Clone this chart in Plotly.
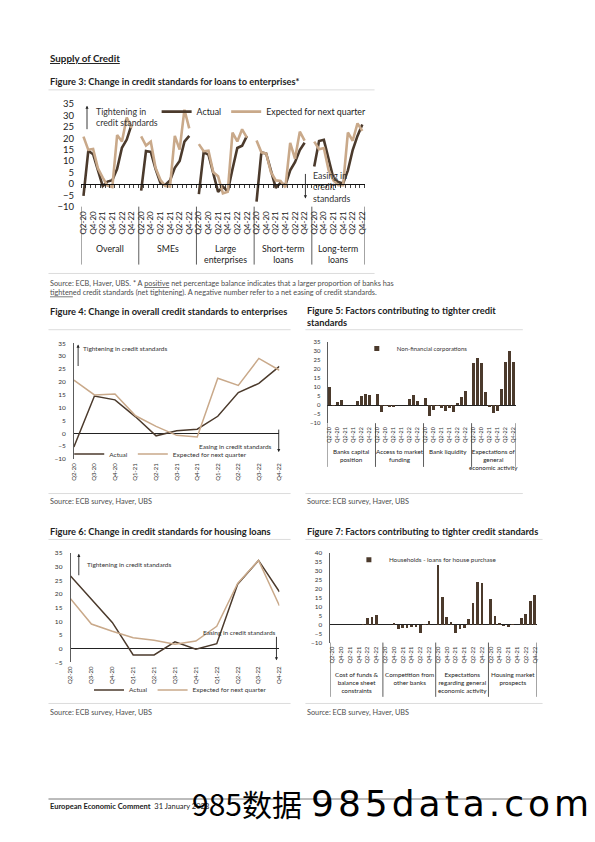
import plotly.graph_objects as go

W, H = 595, 842
FONT = "Lato"
DARK = "#4b3a2c"
TAN = "#c9a98a"
INK = "#222222"
SRC = "#4d4d4d"
RULE = "#dcdcdc"


def fx(x):
    return x / W


def fy(y):
    return 1 - y / H


# ---------------- data ----------------
quarters = ["Q2-20", "Q3-20", "Q4-20", "Q1-21", "Q2-21", "Q3-21",
            "Q4-21", "Q1-22", "Q2-22", "Q3-22", "Q4-22"]
label_quarters = ["Q2-20", "Q4-20", "Q2-21", "Q4-21", "Q2-22", "Q4-22"]

# Figure 3: change in credit standards for loans to enterprises
fig3_groups = ["Overall", "SMEs", "Large<br>enterprises", "Short-term<br>loans", "Long-term<br>loans"]
overall_actual = [-5.3, 14.5, 13.0, 6.4, -1.0, 1.0, 1.6, 6.6, 15.8, 19.4, 26.0]
overall_expected = [20.7, 14.9, 15.3, 6.8, 2.7, -0.8, -1.4, 21.4, 18.6, 29.1, 24.5]
smes_actual = [-3.0, 14.4, 14.0, 6.5, 0.5, -0.5, 1.5, 7.0, 10.0, 18.5, 21.0]
smes_expected = [20.8, 16.8, 18.5, 7.0, 1.8, -1.0, -1.2, 21.0, 15.0, 32.5, 24.3]
large_actual = [-4.5, 13.8, 12.8, 5.0, -3.5, -1.2, -3.3, 6.5, 15.7, 16.7, 21.0]
large_expected = [17.4, 14.3, 14.5, 5.1, 3.3, -4.2, -3.5, 22.5, 18.6, 23.9, 20.3]
short_actual = [-7.8, 13.8, 13.3, 5.9, -1.8, 0.4, -0.6, 5.9, 9.5, 14.8, 18.0]
short_expected = [19.0, 13.8, 13.3, 5.1, 1.5, 1.3, -1.6, 18.0, 11.0, 22.9, 18.9]
long_actual = [7.6, 18.8, 19.3, 11.0, 2.3, 0.8, 0.1, 5.9, 14.8, 21.0, 26.0]
long_expected = [18.5, 15.2, 15.7, 5.9, 1.5, -0.6, -0.6, 22.5, 18.9, 26.5, 23.2]
fig3_actual = [overall_actual, smes_actual, large_actual, short_actual, long_actual]
fig3_expected = [overall_expected, smes_expected, large_expected, short_expected, long_expected]

# Figure 4: overall credit standards to enterprises (same series as "Overall")
fig4_actual = overall_actual
fig4_expected = overall_expected

# Figure 5: factors contributing to tighter credit standards (NFCs)
fig5_groups = ["Banks capital<br>position", "Access to market<br>funding", "Bank liquidity",
               "Expectations of<br>general<br>economic activity"]
nfc_capital = [10.2, -0.5, 1.8, 2.7, 0.0, 0.0, 0.2, 2.6, 4.9, 6.4, 5.4]
nfc_market = [6.4, -3.8, -0.7, -1.2, -1.2, 0.0, 0.0, 0.1, 3.4, 5.9, 2.2]
nfc_liquidity = [4.0, -6.0, -2.6, -0.7, -1.5, -3.0, -1.8, -4.0, 1.2, 4.7, 8.0]
nfc_expectations = [23.5, 26.5, 23.5, 7.6, -0.8, -4.3, -3.3, 8.8, 24.0, 30.0, 24.0]
fig5_values = [nfc_capital, nfc_market, nfc_liquidity, nfc_expectations]

# Figure 6: change in credit standards for housing loans
housing_actual = [26.6, 18.0, 9.6, -2.3, -2.3, 2.5, -0.2, 1.8, 23.6, 32.3, 20.8]
housing_expected = [18.3, 9.0, 6.4, 4.0, 3.1, 1.6, 2.8, 8.2, 23.9, 32.3, 15.7]

# Figure 7: factors contributing to tighter credit standards (households)
fig7_groups = ["Cost of funds &<br>balance sheet<br>constraints", "Competition from<br>other banks",
               "Expectations<br>regarding general<br>economic activity", "Housing market<br>prospects"]
hh_cost = [0.0, 0.0, 0.0, 0.0, 0.0, 0.0, 0.0, 0.2, 4.0, 4.4, 5.6]
hh_competition = [0.0, 0.0, 1.0, -2.6, -1.9, -2.1, -1.4, -1.4, -4.9, 0.6, 2.2]
hh_expectations = [33.5, 15.5, 4.4, 1.5, -4.4, -2.6, -1.9, 3.0, 12.3, 23.6, 23.0]
hh_housing = [14.5, 5.0, 1.0, -0.8, -1.3, 0.5, 0.0, 4.0, 6.2, 13.3, 16.8]
fig7_values = [hh_cost, hh_competition, hh_expectations, hh_housing]

SLOT = 12  # 11 quarters plus one empty spacer category per group


# ---------------- helpers ----------------
def group_pos(n):
    return [[g * SLOT + i for i in range(len(quarters))] for g in range(n)]


def with_gaps(pos, vals):
    xs, ys = [], []
    for p, v in zip(pos, vals):
        xs += p + [None]
        ys += v + [None]
    return xs, ys


def flat(pos, vals):
    xs, ys = [], []
    for p, v in zip(pos, vals):
        xs += p
        ys += v
    return xs, ys


def group_ticks(n):
    vals, text = [], []
    for g in range(n):
        for q in label_quarters:
            vals.append(g * SLOT + quarters.index(q))
            text.append(q)
    return vals, text


def dividers(n):
    return [g * SLOT - 0.5 for g in range(n)] + [n * SLOT - 1.5]


fig = go.Figure()

# ---------- Figure 3 ----------
p3 = group_pos(len(fig3_groups))
xa, ya = with_gaps(p3, fig3_actual)
xe, ye = with_gaps(p3, fig3_expected)
fig.add_trace(go.Scatter(x=xa, y=ya, mode="lines", name="Actual", line=dict(color=DARK, width=2.6),
                         xaxis="x", yaxis="y", legend="legend", connectgaps=False, hoverinfo="skip"))
fig.add_trace(go.Scatter(x=xe, y=ye, mode="lines", name="Expected for next quarter",
                         line=dict(color=TAN, width=2.6), xaxis="x", yaxis="y", legend="legend",
                         connectgaps=False, hoverinfo="skip"))
fig.add_trace(go.Scatter(x=[None], y=[None], xaxis="x6", yaxis="y", showlegend=False, hoverinfo="skip"))

# ---------- Figure 4 ----------
q_idx = list(range(len(quarters)))
fig.add_trace(go.Scatter(x=q_idx, y=fig4_actual, mode="lines", name="Actual",
                         line=dict(color=DARK, width=1.5), xaxis="x2", yaxis="y2", legend="legend2",
                         hoverinfo="skip"))
fig.add_trace(go.Scatter(x=q_idx, y=fig4_expected, mode="lines", name="Expected for next quarter",
                         line=dict(color=TAN, width=1.5), xaxis="x2", yaxis="y2", legend="legend2",
                         hoverinfo="skip"))

# ---------- Figure 5 ----------
p5 = group_pos(len(fig5_groups))
xb, yb = flat(p5, fig5_values)
fig.add_trace(go.Bar(x=xb, y=yb, width=0.62, marker=dict(color=DARK, line=dict(width=0)),
                     xaxis="x3", yaxis="y3", showlegend=False, hoverinfo="skip"))
fig.add_trace(go.Scatter(x=[None], y=[None], mode="markers", name="Non-financial corporations",
                         marker=dict(symbol="square", size=5, color=DARK), xaxis="x3", yaxis="y3",
                         legend="legend3", hoverinfo="skip"))

# ---------- Figure 6 ----------
fig.add_trace(go.Scatter(x=q_idx, y=housing_actual, mode="lines", name="Actual",
                         line=dict(color=DARK, width=1.5), xaxis="x4", yaxis="y4", legend="legend4",
                         hoverinfo="skip"))
fig.add_trace(go.Scatter(x=q_idx, y=housing_expected, mode="lines", name="Expected for next quarter",
                         line=dict(color=TAN, width=1.5), xaxis="x4", yaxis="y4", legend="legend4",
                         hoverinfo="skip"))

# ---------- Figure 7 ----------
p7 = group_pos(len(fig7_groups))
xh, yh = flat(p7, fig7_values)
fig.add_trace(go.Bar(x=xh, y=yh, width=0.62, marker=dict(color=DARK, line=dict(width=0)),
                     xaxis="x5", yaxis="y5", showlegend=False, hoverinfo="skip"))
fig.add_trace(go.Scatter(x=[None], y=[None], mode="markers", name="Households - loans for house purchase",
                         marker=dict(symbol="square", size=5, color=DARK), xaxis="x5", yaxis="y5",
                         legend="legend5", hoverinfo="skip"))

# ---------------- axes ----------------
base = dict(showgrid=False, zeroline=False, showline=False, ticks="", fixedrange=True)

# Fig 3
t3v, t3t = group_ticks(len(fig3_groups))
r3 = [-0.5, len(fig3_groups) * SLOT - 1.5]
y3dom = [fy(203.3), fy(99.3)]
y3rng = [-10, 35]
zero3 = y3dom[0] + (0 - y3rng[0]) / (y3rng[1] - y3rng[0]) * (y3dom[1] - y3dom[0])
fig.update_layout(
    xaxis=dict(base, domain=[fx(78), fx(365)], range=r3, anchor="y", tickmode="array",
               tickvals=t3v, ticktext=t3t, tickangle=-90, tickfont=dict(size=8, color=INK),
               ticklabelstandoff=2),
    yaxis=dict(base, domain=y3dom, range=y3rng, anchor="x", dtick=5, tickfont=dict(size=9.5, color=INK),
               ticklabelstandoff=6),
    xaxis6=dict(base, overlaying="x", anchor="free", position=zero3, range=r3, showline=True,
                linecolor="#111111", linewidth=1.2, ticks="outside", ticklen=2.5, tickwidth=0.8,
                tickcolor="#111111", tickmode="array",
                tickvals=[k + 0.5 for k in range(-1, int(r3[1]) + 1)], showticklabels=False),
)

# Fig 4
fig.update_layout(
    xaxis2=dict(base, domain=[fx(70.7), fx(278.7)], range=[0, len(quarters) - 1], anchor="y2",
                tickmode="array", tickvals=q_idx, ticktext=quarters, tickangle=-90,
                tickfont=dict(size=6, color="#333333"), ticklabelstandoff=2),
    yaxis2=dict(base, domain=[fy(459), fy(341.7)], range=[-10, 35], anchor="x2", dtick=5,
                showline=True, linecolor="#333333", linewidth=0.8, zeroline=True,
                zerolinecolor="#222222", zerolinewidth=1, tickfont=dict(size=6.5, color="#333333"),
                ticklabelstandoff=6),
)

# Fig 5
t5v, t5t = group_ticks(len(fig5_groups))
r5 = [-0.5, len(fig5_groups) * SLOT - 1.5]
fig.update_layout(
    xaxis3=dict(base, domain=[fx(327.3), fx(517.7)], range=r5, anchor="y3", tickmode="array",
                tickvals=t5v, ticktext=t5t, tickangle=-90, tickfont=dict(size=5.3, color="#333333"),
                ticklabelstandoff=2),
    yaxis3=dict(base, domain=[fy(422.7), fy(340.7)], range=[-10, 35], anchor="x3", dtick=5,
                showline=True, linecolor="#333333", linewidth=0.8, zeroline=True,
                zerolinecolor="#222222", zerolinewidth=1, tickfont=dict(size=6, color="#333333"),
                ticklabelstandoff=5),
)

# Fig 6
fig.update_layout(
    xaxis4=dict(base, domain=[fx(67.3), fx(278.7)], range=[0, len(quarters) - 1], anchor="y4",
                tickmode="array", tickvals=q_idx, ticktext=quarters, tickangle=-90,
                tickfont=dict(size=6, color="#333333"), ticklabelstandoff=2),
    yaxis4=dict(base, domain=[fy(665), fy(554.3)], range=[-5, 35], anchor="x4", dtick=5,
                showline=True, linecolor="#333333", linewidth=0.8, zeroline=True,
                zerolinecolor="#222222", zerolinewidth=1, tickfont=dict(size=6.5, color="#333333"),
                ticklabelstandoff=6),
)

# Fig 7
t7v, t7t = group_ticks(len(fig7_groups))
r7 = [-0.5, len(fig7_groups) * SLOT - 1.5]
fig.update_layout(
    xaxis5=dict(base, domain=[fx(330), fx(539.2)], range=r7, anchor="y5", tickmode="array",
                tickvals=t7v, ticktext=t7t, tickangle=-90, tickfont=dict(size=5.8, color="#333333"),
                ticklabelstandoff=2),
    yaxis5=dict(base, domain=[fy(645), fy(554.3)], range=[-10, 40], anchor="x5", dtick=5,
                showline=True, linecolor="#333333", linewidth=0.8, zeroline=True,
                zerolinecolor="#222222", zerolinewidth=1, tickfont=dict(size=6.3, color="#333333"),
                ticklabelstandoff=6),
)

# ---------------- legends ----------------
leg = dict(orientation="h", yanchor="middle", bgcolor="rgba(0,0,0,0)", borderwidth=0,
           itemclick=False, itemdoubleclick=False)
fig.update_layout(
    legend=dict(leg, x=fx(372), xanchor="right", y=fy(107), font=dict(size=8.8, color=INK)),
    legend2=dict(leg, x=fx(66), xanchor="left", y=fy(454), font=dict(size=6.5, color="#333333")),
    legend3=dict(leg, x=fx(357), xanchor="left", y=fy(347), font=dict(size=6, color="#333333")),
    legend4=dict(leg, x=fx(86), xanchor="left", y=fy(693), font=dict(size=6.5, color="#333333")),
    legend5=dict(leg, x=fx(349), xanchor="left", y=fy(561), font=dict(size=6.3, color="#333333")),
)

# ---------------- annotations & shapes ----------------
ann = []
shapes = []


def text(x, y, s, size, color=INK, xanchor="left", yanchor="middle", bold=False, align="left", **kw):
    ann.append(dict(x=fx(x), y=fy(y), xref="paper", yref="paper", text=("<b>%s</b>" % s) if bold else s,
                    showarrow=False, xanchor=xanchor, yanchor=yanchor, align=align,
                    font=dict(size=size, color=color, family=kw.get("family", FONT))))


def arrow(x, y_tip, y_tail):
    ann.append(dict(x=fx(x), y=fy(y_tip), xref="paper", yref="paper", text="", showarrow=True,
                    ax=0, ay=y_tail - y_tip, arrowhead=2, arrowsize=0.7, arrowwidth=0.9,
                    arrowcolor="#222222"))


def hline(x0, x1, y, color=RULE, width=1):
    shapes.append(dict(type="line", xref="paper", yref="paper", x0=fx(x0), x1=fx(x1), y0=fy(y), y1=fy(y),
                       line=dict(color=color, width=width)))


def group_labels(xref, n, labels, y_top, size, y_bottom, div_bottom):
    divs = dividers(n)
    for i, lab in enumerate(labels):
        mid = (divs[i] + divs[i + 1]) / 2
        ann.append(dict(x=mid, y=fy(y_top), xref=xref, yref="paper", text=lab, showarrow=False,
                        xanchor="center", yanchor="top", align="center",
                        font=dict(size=size, color=INK, family=FONT)))
    for d in divs:
        shapes.append(dict(type="line", xref=xref, yref="paper", x0=d, x1=d, y0=fy(y_bottom),
                           y1=fy(div_bottom), line=dict(color="#333333", width=0.8)))


TITLE = 9.3
SOURCE = 7.3

# header
text(45, 53, "<u>Supply of Credit</u>", 9.8, bold=True)
text(45, 76, "Figure 3: Change in credit standards for loans to enterprises*", TITLE, bold=True)
hline(45, 375, 85)

# fig 3 annotations
text(91, 112.5, "Tightening in<br>credit standards", 8.8, color="#333333")
arrow(84, 101, 126)
text(311, 183.5, "Easing in<br>credit<br>standards", 8.8, color="#333333")
arrow(305, 195, 169)
group_labels("x", len(fig3_groups), fig3_groups, 238, 8.8, 203.3, 262)
hline(45, 375, 271)
text(45, 285.5, "Source: ECB, Haver, UBS. * A <u>positive</u> net percentage balance indicates that a larger "
     "proportion of banks has<br><u>tighten</u>ed credit standards (net tightening). A negative number "
     "refer to a net easing of credit standards.", SOURCE, color=SRC)

# fig 4
text(45, 310, "Figure 4: Change in overall credit standards to enterprises", TITLE, bold=True)
hline(45, 290, 328)
text(77.7, 347.5, "Tightening in credit standards", 6.5, color="#333333")
arrow(75, 343, 366)
text(273, 446.5, "Easing in credit standards", 6.5, color="#333333", xanchor="right")
arrow(278, 452, 428)
hline(45, 290, 494)
text(45, 502.5, "Source: ECB survey, Haver, UBS", SOURCE, color=SRC)

# fig 5
text(305, 315, "Figure 5: Factors contributing to tighter credit<br>standards", TITLE, bold=True)
hline(305, 525, 328)
group_labels("x3", len(fig5_groups), fig5_groups, 446, 6.3, 422.7, 467)
hline(305, 525, 494)
text(305, 502.5, "Source: ECB survey, Haver, UBS", SOURCE, color=SRC)

# fig 6
text(45, 532.5, "Figure 6: Change in credit standards for housing loans", TITLE, bold=True)
hline(45, 290, 540.5)
text(81.7, 565.5, "Tightening in credit standards", 6.5, color="#333333")
arrow(75.7, 555, 578)
text(277, 634.5, "Easing in credit standards", 6.5, color="#333333", xanchor="right")
arrow(275.7, 663, 638)
hline(45, 290, 706.7)
text(45, 715.5, "Source: ECB survey, Haver, UBS", SOURCE, color=SRC)

# fig 7
text(305, 532.5, "Figure 7: Factors contributing to tighter credit standards", TITLE, bold=True)
hline(305, 545, 540.5)
group_labels("x5", len(fig7_groups), fig7_groups, 671.5, 6.3, 645, 700)
hline(305, 545, 706.7)
text(305, 715.5, "Source: ECB survey, Haver, UBS", SOURCE, color=SRC)

# footer
hline(45, 550, 803.5, color="#555555", width=0.8)
text(45, 811, "<b>European Economic Comment</b>  31 January 2023", 7.5, color="#222222")
text(188, 808, "985数据", 30, color="#000000", family="Noto Sans CJK SC")
text(309, 808, '<span style="letter-spacing:4px">985data.com</span>', 36, color="#000000",
     family="DejaVu Sans")

fig.update_layout(
    width=W, height=H, margin=dict(l=0, r=0, t=0, b=0, pad=0), autosize=False,
    paper_bgcolor="white", plot_bgcolor="white", font=dict(family=FONT, color=INK),
    showlegend=True, annotations=ann, shapes=shapes, bargap=0,
)

fig.write_html("out.html", config={"displayModeBar": False, "staticPlot": True},
               post_script="document.body.style.margin='0';document.body.style.overflow='hidden';")
